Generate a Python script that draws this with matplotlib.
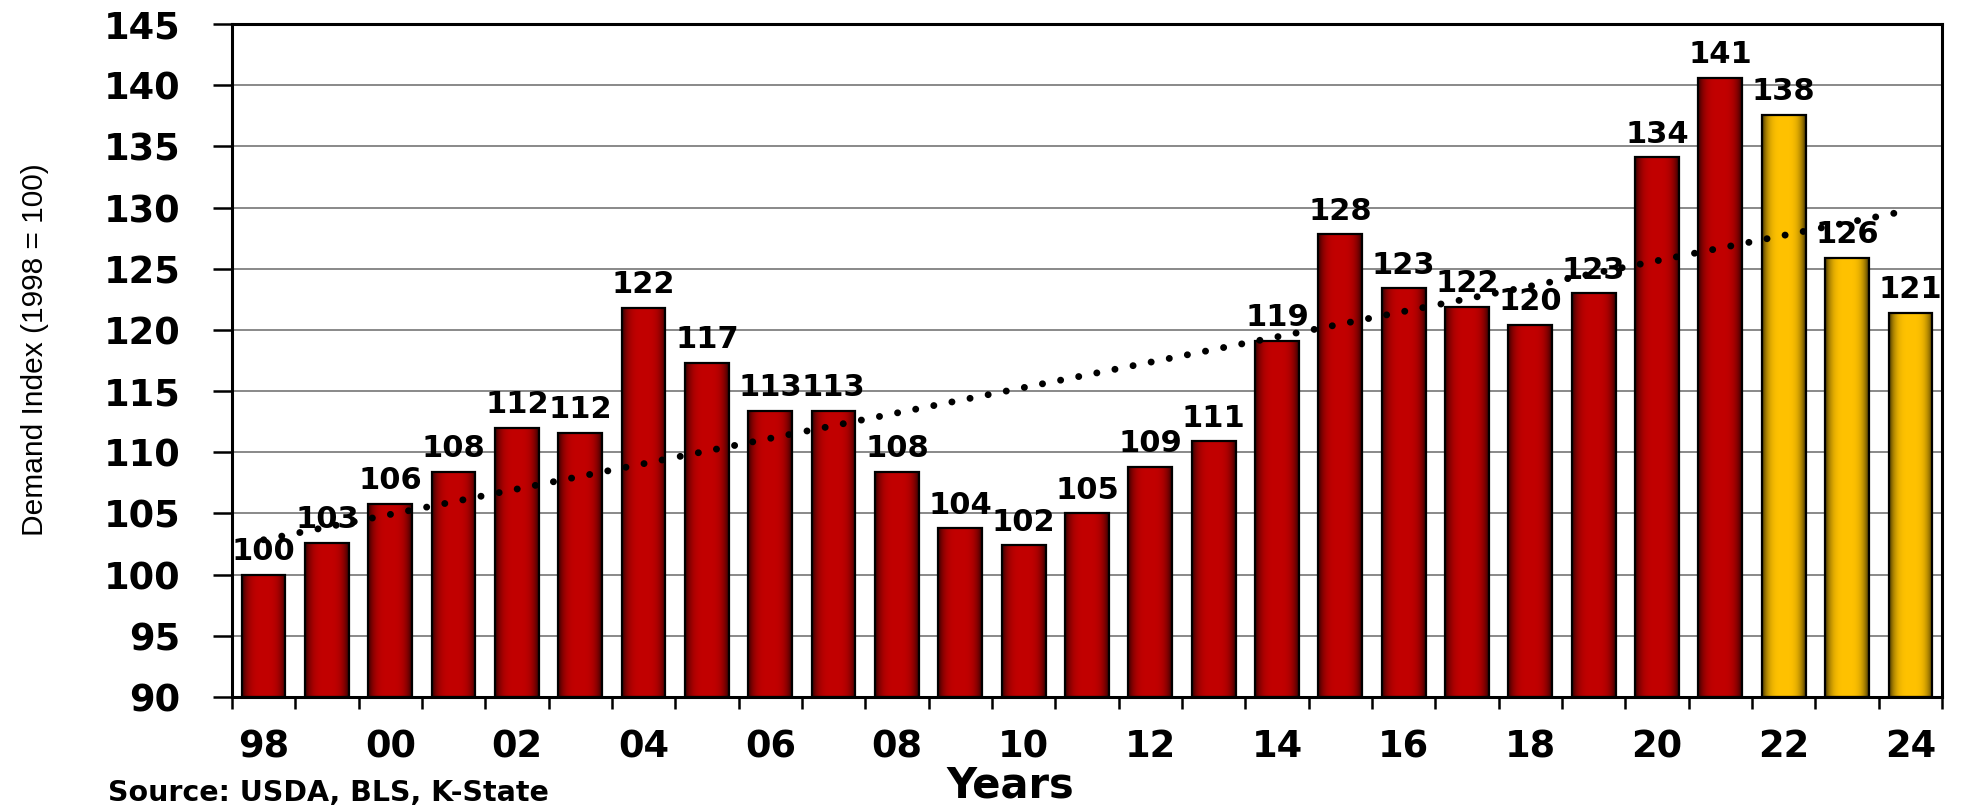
import numpy as np
import matplotlib
matplotlib.use("Agg")
import matplotlib.pyplot as plt

# Retail demand index, 1998 = 100
years = ["98", "99", "00", "01", "02", "03", "04", "05", "06", "07", "08", "09", "10",
         "11", "12", "13", "14", "15", "16", "17", "18", "19", "20", "21", "22", "23", "24"]
demand_index = [100.0, 102.6, 105.8, 108.4, 112.0, 111.6, 121.8, 117.3, 113.4, 113.4,
                108.4, 103.8, 102.4, 105.0, 108.8, 110.9, 119.1, 127.8, 123.4, 121.9,
                120.4, 123.0, 134.1, 140.6, 137.6, 125.9, 121.4]
recent_years = ["22", "23", "24"]

Y_MIN, Y_MAX = 90, 145
RED = np.array([0.76, 0.0, 0.0])
GOLD = np.array([1.0, 0.76, 0.0])
BOLD = dict(family="DejaVu Sans", weight="bold")


def shade_bar(ax, patch, base):
    """Fill a bar with a horizontal shade that darkens toward both edges."""
    x0, w = patch.get_x(), patch.get_width()
    y0, h = patch.get_y(), patch.get_height()
    t = np.linspace(-1, 1, 80)
    k = 1 - 0.72 * np.abs(t) ** 3.5
    img = np.clip(np.ones((2, 1, 1)) * k[None, :, None] * base[None, None, :], 0, 1)
    im = ax.imshow(img, extent=(x0, x0 + w, y0, y0 + h), aspect="auto",
                   interpolation="bilinear", zorder=2.5)
    im.set_clip_path(patch)


fig = plt.figure(figsize=(19.69, 8.09), dpi=100)
ax = fig.add_axes([0.1178, 0.1384, 0.8685, 0.8319])

x = np.arange(len(years))
values = np.array(demand_index)
# bars start at the bottom of the axis so the shading stays inside the plot
bars = ax.bar(x, values - Y_MIN, bottom=Y_MIN, width=0.69, facecolor="none",
              edgecolor="black", linewidth=1.6, zorder=3)
for yr, patch in zip(years, bars):
    shade_bar(ax, patch, GOLD if yr in recent_years else RED)

# linear trend across the whole period
slope, intercept = np.polyfit(x, values, 1)
trend_x = np.array([x[0], x[-1]])
ax.plot(trend_x, intercept + slope * trend_x, color="black", linewidth=5,
        linestyle=(0, (0.01, 2.65)), dash_capstyle="round", zorder=4)

for xi, val in zip(x, values):
    ax.annotate(f"{val:.0f}", (xi, val), xytext=(0, 10.5), textcoords="offset points",
                ha="center", va="baseline", fontsize=22, zorder=5, **BOLD)

ax.set_xlim(-0.5, len(years) - 0.5)
ax.set_ylim(Y_MIN, Y_MAX)
ax.set_yticks(np.arange(Y_MIN, Y_MAX + 1, 5))
ax.set_xticks(x[::2])
ax.set_xticklabels(years[::2])
ax.set_xticks(np.arange(-0.5, len(years)), minor=True)

ax.grid(axis="y", color="#808080", linewidth=1.3, zorder=0)
ax.set_axisbelow(True)
for side in ax.spines.values():
    side.set_linewidth(2.2)
    side.set_color("black")
    side.set_zorder(6)

ax.tick_params(axis="y", direction="out", length=13.7, width=1.8, pad=23.5)
ax.tick_params(axis="x", which="major", length=0, pad=22.5)
ax.tick_params(axis="x", which="minor", direction="out", length=8.6, width=1.8)
for lbl in ax.get_xticklabels() + ax.get_yticklabels():
    lbl.set_fontsize(26.5)
    lbl.set_fontweight("bold")
    lbl.set_family("DejaVu Sans")

fig.text(35 / 1969, 1 - 350 / 809, "Demand Index (1998 = 100)", rotation=90,
         ha="center", va="center", fontsize=21.5, family="Liberation Sans")
fig.text(1010 / 1969, 12 / 809, "Years", ha="center", va="baseline", fontsize=30, **BOLD)
fig.text(108 / 1969, 8 / 809, "Source: USDA, BLS, K-State", ha="left", va="baseline",
         fontsize=20.5, **BOLD)

fig.savefig("out.png", dpi=100)
